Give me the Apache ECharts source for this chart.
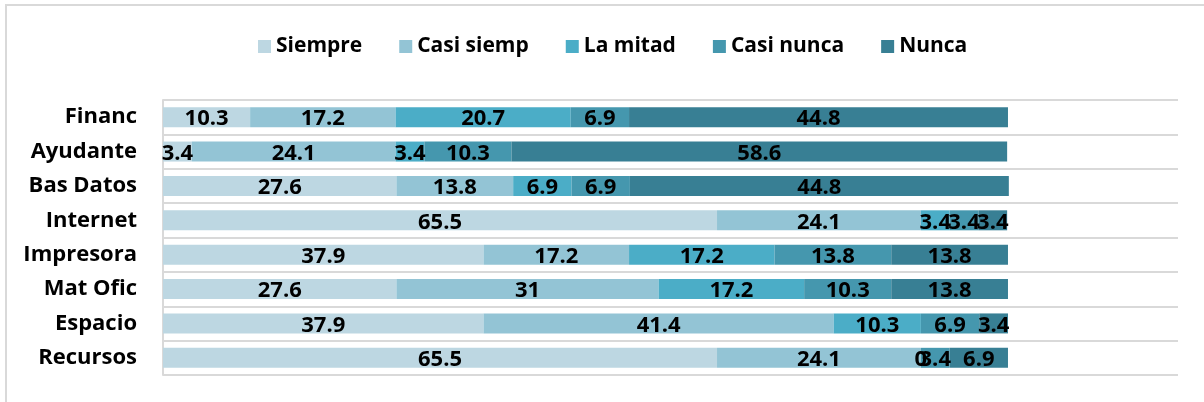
<!DOCTYPE html>
<html>
<head>
<meta charset="utf-8">
<script src="https://cdn.jsdelivr.net/npm/echarts@6/dist/echarts.min.js"></script>
<style>
  html, body { margin: 0; padding: 0; background: #fff; }
  #chart { width: 1204px; height: 402px; }
</style>
</head>
<body>
<div id="chart"></div>
<script>
var categories = ['Financ', 'Ayudante', 'Bas Datos', 'Internet', 'Impresora', 'Mat Ofic', 'Espacio', 'Recursos'];
var seriesNames = ['Siempre', 'Casi siemp', 'La mitad', 'Casi nunca', 'Nunca'];
var siempre    = [10.3, 3.4, 27.6, 65.5, 37.9, 27.6, 37.9, 65.5];
var casiSiemp  = [17.2, 24.1, 13.8, 24.1, 17.2, 31, 41.4, 24.1];
var laMitad    = [20.7, 3.4, 6.9, 3.4, 17.2, 17.2, 10.3, 0];
var casiNunca  = [6.9, 10.3, 6.9, 3.4, 13.8, 10.3, 6.9, 3.4];
var nunca      = [44.8, 58.6, 44.8, 3.4, 13.8, 13.8, 3.4, 6.9];
var colors = ['#bdd7e2', '#93c4d5', '#4badc7', '#4597ae', '#387f94'];

(function() {
  var values = [siempre, casiSiemp, laMitad, casiNunca, nunca];
  var font = '"Open Sans", Lato, sans-serif';

  var chart = echarts.init(document.getElementById('chart'), null, { renderer: 'canvas' });

  var series = seriesNames.map(function(name, i) {
    return {
      name: name,
      type: 'bar',
      stack: 'total',
      barWidth: 20,
      data: values[i],
      itemStyle: { color: colors[i] },
      label: {
        show: true,
        position: 'inside',
        offset: [0, 2],
        color: '#000',
        fontFamily: font,
        fontWeight: 'bold',
        fontSize: 22
      },
      emphasis: { disabled: true }
    };
  });

  chart.setOption({
    animation: false,
    backgroundColor: '#fff',
    graphic: [{
      type: 'rect',
      shape: { x: 6, y: 5, width: 1300, height: 500 },
      style: { fill: 'none', stroke: '#d9d9d9', lineWidth: 2 },
      silent: true
    }],
    legend: {
      top: 31,
      left: 253,
      itemWidth: 13,
      itemHeight: 13,
      itemGap: 37,
      icon: 'rect',
      textStyle: { color: '#000', fontFamily: font, fontWeight: 'bold', fontSize: 21 },
      data: seriesNames
    },
    grid: { left: 163, right: 26, top: 100, bottom: 27, containLabel: false },
    xAxis: {
      type: 'value',
      min: 0,
      max: 120,
      show: false,
      splitLine: { show: false }
    },
    yAxis: {
      type: 'category',
      inverse: true,
      data: categories,
      axisLine: { show: true, lineStyle: { color: '#d9d9d9', width: 2 } },
      axisTick: { show: false },
      splitLine: { show: true, lineStyle: { color: '#d9d9d9', width: 2 } },
      axisLabel: {
        margin: 26,
        color: '#000',
        fontFamily: font,
        fontWeight: 'bold',
        fontSize: 22
      }
    },
    series: series
  });

  window.addEventListener('resize', function() { chart.resize(); });
})();
</script>
</body>
</html>
